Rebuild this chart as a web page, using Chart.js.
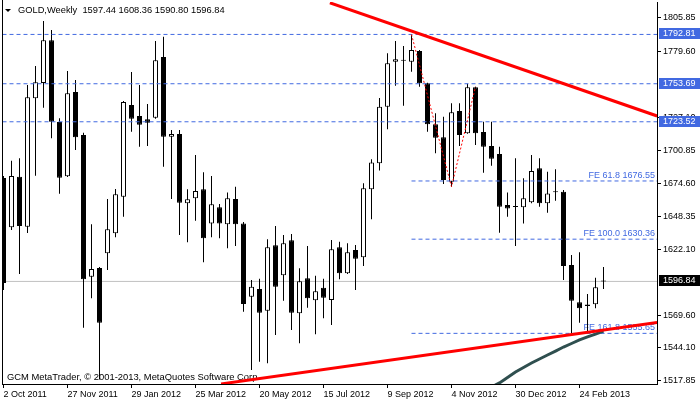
<!DOCTYPE html>
<html><head><meta charset="utf-8">
<script src="https://cdn.jsdelivr.net/npm/chart.js@4/dist/chart.umd.min.js"></script>
<style>html,body{margin:0;padding:0;background:#fff;}#c{display:block;}</style>
</head><body>
<canvas id="c" width="700" height="402"></canvas>
<script>
// ---- data ----
const headerText = 'GOLD,Weekly  1597.44 1608.36 1590.80 1596.84';
const copyrightText = 'GCM MetaTrader, \u00A9 2001-2013, MetaQuotes Software Corp.';
const dateLabels = ['2 Oct 2011','27 Nov 2011','29 Jan 2012','25 Mar 2012','20 May 2012','15 Jul 2012','9 Sep 2012','4 Nov 2012','30 Dec 2012','24 Feb 2013'];
const openP  = [1678.9,1639.8,1679.9,1640.3,1742.1,1754.3,1788.2,1723.4,1680.3,1747.1,
                1713.0,1600.6,1607.5,1619.2,1635.0,1664.1,1736.8,1728.1,1725.5,1726.7,
                1774.9,1711.7,1713.8,1658.8,1662.8,1669.9,1642.9,1655.6,1642.2,1662.2,
                1642.9,1584.7,1590.8,1573.6,1625.5,1601.7,1629.5,1571.6,1599.3,1581.9,
                1591.9,1582.1,1623.9,1603.3,1621.8,1616.0,1669.9,1690.6,1735.5,1771.2,
                1772.3,1771.2,1779.7,1754.0,1721.5,1711.2,1676.0,1732.1,1714.4,1750.9,
                1715.4,1704.3,1697.9,1657.5,1656.1,1655.6,1659.6,1686.6,1658.8,1668.0,
                1668.0,1609.9,1580.3,1578.6,1578.7,1597.44];
const highP  = [1680.5,1692.6,1694.5,1752.7,1767.8,1803.5,1796.3,1726.3,1763.8,1756.7,
                1714.8,1642.2,1608.3,1662.2,1670.2,1740.0,1763.0,1752.7,1737.6,1787.6,
                1791.0,1717.0,1717.0,1669.9,1697.1,1683.4,1680.5,1658.3,1667.5,1672.0,
                1644.0,1598.0,1599.0,1630.3,1640.8,1633.7,1634.5,1607.3,1624.9,1601.4,
                1599.0,1629.7,1628.4,1627.1,1625.7,1674.7,1693.7,1742.4,1777.8,1787.6,
                1783.6,1792.81,1780.5,1754.5,1730.2,1727.5,1738.2,1738.2,1753.69,1751.28,
                1723.6,1723.6,1703.7,1667.5,1694.5,1678.7,1697.1,1694.5,1683.9,1685.8,
                1669.4,1617.8,1619.9,1586.9,1599.8,1608.36];
const lowP   = [1590.0,1637.7,1602.7,1635.3,1680.7,1734.7,1710.4,1666.5,1679.7,1701.1,
                1560.1,1583.5,1519.0,1605.9,1631.8,1648.2,1715.6,1703.7,1704.3,1725.9,
                1687.9,1662.2,1633.7,1627.9,1645.0,1612.0,1631.8,1631.1,1623.1,1624.9,
                1572.8,1526.6,1533.2,1531.9,1554.3,1581.5,1558.3,1547.8,1576.0,1554.9,
                1567.6,1562.3,1598.5,1602.7,1590.0,1609.1,1646.1,1684.9,1717.5,1752.1,
                1736.3,1763.2,1751.3,1715.6,1698.5,1674.1,1671.89,1704.3,1714.0,1705.1,
                1683.1,1688.7,1635.5,1648.2,1624.9,1642.9,1658.8,1656.1,1651.4,1660.9,
                1598.0,1555.7,1564.1,1555.7,1575.5,1590.80];
const closeP = [1595.6,1680.5,1640.8,1742.9,1754.8,1788.2,1723.6,1679.1,1746.1,1711.2,
                1598.5,1606.7,1564.1,1638.2,1666.0,1739.2,1725.9,1721.2,1722.8,1772.3,
                1711.7,1713.8,1659.3,1662.0,1668.6,1631.1,1658.0,1642.9,1662.8,1642.2,
                1578.9,1592.6,1572.0,1623.9,1592.6,1627.1,1572.0,1596.9,1583.5,1589.0,
                1583.9,1622.3,1603.3,1619.9,1614.9,1670.7,1691.3,1735.5,1769.9,1773.1,
                1772.0,1780.5,1754.0,1721.5,1710.9,1677.3,1731.0,1713.0,1750.9,1714.4,
                1703.7,1694.2,1656.1,1654.8,1655.8,1662.8,1684.5,1658.8,1666.7,1667.6,
                1609.1,1581.5,1575.6,1577.3,1592.2,1596.84];
const maStartBar = 61;
const maValues = [1513.1,1516.3,1520.6,1525.0,1528.6,1532.1,1535.3,1538.5,1541.6,1544.8,1547.6,1550.4,1552.8,1555.1,1557.5];
const yTickValues = [1805.85,1779.60,1727.10,1700.85,1674.60,1648.35,1622.10,1569.60,1544.10,1517.85];
const levelPrices = [1792.81,1753.69,1723.52];
const feRatios = ['61.8','100.0','161.8'];
const fePrices = [1676.55,1630.36,1555.65];
const feStartBar = 51;
const bidPrice = 1596.84;
const zigzagBars = [51,56,59];
const zigzagPrices = [1792.81,1671.89,1751.28];
const resistanceBars = [40.8,81.7];
const resistancePrices = [1817.9,1728.1];
const supportBars = [27.2,81.7];
const supportPrices = [1515.5,1564.2];

// ---- chart ----
const FONT = "'Liberation Sans', Arial, sans-serif";
Chart.defaults.font.family = FONT;
Chart.defaults.font.size = 9;
Chart.defaults.color = '#000';

const BLUE = '#4169E1';
const X_MIN = -0.1875, X_MAX = 81.6875;

function hline(price, fromX, toX, color, width, dash, order) {
  return {type:'line', data:[{x:fromX,y:price},{x:toX,y:price}], borderColor:color, borderWidth:width,
          borderDash:dash||[], pointRadius:0, fill:false, tension:0, order:order};
}
function seg(bars, prices, color, width, dash, order) {
  return {type:'line', data:bars.map((b,k)=>({x:b,y:prices[k]})), borderColor:color, borderWidth:width,
          borderDash:dash||[], pointRadius:0, fill:false, tension:0, order:order};
}

const datasets = [];
// candle wicks
datasets.push({type:'bar', data:openP.map((o,i)=>({x:i,y:[lowP[i],highP[i]]})),
  backgroundColor:'#000', borderWidth:0, barThickness:1, grouped:false, inflateAmount:0, order:11});
// candle bodies
datasets.push({type:'bar', data:openP.map((o,i)=>({x:i,y:[o,closeP[i]]})),
  backgroundColor:openP.map((o,i)=>closeP[i] > o ? '#fff' : '#000'),
  borderColor:'#000', borderWidth:1, borderSkipped:false, barThickness:5, grouped:false,
  minBarLength:1, inflateAmount:0, order:10});
// bid line (behind candles)
datasets.push(hline(bidPrice, -1, 90, '#c0c0c0', 1, null, 12));
// horizontal levels
levelPrices.forEach(p => datasets.push(hline(p, -1, 90, BLUE, 1, [4,3], 5)));
// FE levels
fePrices.forEach(p => datasets.push(hline(p, feStartBar, 90, BLUE, 1, [4,3], 5)));
// moving average
datasets.push({type:'line', data:maValues.map((v,k)=>({x:maStartBar+k,y:v})), borderColor:'#2F4F4F',
  borderWidth:3, pointRadius:0, fill:false, tension:0, order:4});
// FE zigzag
datasets.push(seg(zigzagBars, zigzagPrices, '#ff0000', 1, [2,2], 3));
// trend lines
datasets.push(seg(resistanceBars, resistancePrices, '#ff0000', 3, null, 2));
datasets.push(seg(supportBars, supportPrices, '#ff0000', 3, null, 2));

const overlay = {
  id:'overlay',
  beforeDatasetsDraw(chart){
    const ctx = chart.ctx, y = chart.scales.y, a = chart.chartArea;
    ctx.save();
    ctx.font = '9px ' + FONT;
    ctx.fillStyle = BLUE; ctx.textAlign = 'right'; ctx.textBaseline = 'alphabetic';
    fePrices.forEach((p,k)=>{
      ctx.fillText('FE ' + feRatios[k] + ' ' + p.toFixed(2), a.right - 2, y.getPixelForValue(p) - 3);
    });
    ctx.fillStyle = '#000'; ctx.textAlign = 'left';
    ctx.font = '9.4px ' + FONT;
    ctx.fillText(copyrightText, 7, 380);
    ctx.restore();
  },
  afterDraw(chart){
    const ctx = chart.ctx, y = chart.scales.y, a = chart.chartArea;
    ctx.save();
    // left frame
    ctx.strokeStyle = '#000'; ctx.lineWidth = 1;
    ctx.beginPath(); ctx.moveTo(a.left + 0.5, 0); ctx.lineTo(a.left + 0.5, a.bottom); ctx.stroke();
    // header
    ctx.fillStyle = '#000';
    ctx.beginPath(); ctx.moveTo(5,9); ctx.lineTo(11,9); ctx.lineTo(8,12); ctx.closePath(); ctx.fill();
    ctx.font = '9.3px ' + FONT; ctx.textAlign = 'left'; ctx.textBaseline = 'alphabetic';
    ctx.fillText(headerText, 18, 13);
    // axis price boxes
    ctx.font = '9px ' + FONT; ctx.textBaseline = 'middle';
    const box = (p, bg) => {
      const py = Math.round(y.getPixelForValue(p));
      ctx.fillStyle = bg; ctx.fillRect(a.right + 2, py - 6, 700 - a.right - 2, 11);
      ctx.fillStyle = '#fff'; ctx.fillText(p.toFixed(2), a.right + 6, py);
    };
    levelPrices.forEach(p => box(p, BLUE));
    box(bidPrice, '#000');
    ctx.restore();
  }
};

new Chart(document.getElementById('c'), {
  type:'bar',
  data:{datasets},
  options:{
    responsive:false, animation:false, devicePixelRatio:1, events:[],
    layout:{padding:{left:2, top:2, right:0, bottom:0}, autoPadding:false},
    plugins:{legend:{display:false}, tooltip:{enabled:false}},
    scales:{
      x:{type:'linear', min:X_MIN, max:X_MAX, offset:false, bounds:'data',
        grid:{drawOnChartArea:false, drawTicks:true, tickLength:4, color:'#000', offset:false},
        border:{display:true, color:'#000', width:1},
        ticks:{autoSkip:false, maxRotation:0, minRotation:0, align:'start', padding:1,
          font:{size:9}, callback:(v)=>dateLabels[Math.round(v/8)]},
        afterBuildTicks:(s)=>{ s.ticks = dateLabels.map((_,k)=>({value:k*8})); },
        afterFit:(s)=>{ s.height = 18; s.paddingLeft = 0; s.paddingRight = 0; }
      },
      y:{type:'linear', position:'right', min:1515.466, max:1818.544, beginAtZero:false, bounds:'data',
        grid:{drawOnChartArea:false, drawTicks:true, tickLength:4, color:'#000'},
        border:{display:true, color:'#000', width:1},
        ticks:{padding:2, font:{size:9}, callback:(v)=>Number(v).toFixed(2)},
        afterBuildTicks:(s)=>{ s.ticks = yTickValues.map(v=>({value:v})); },
        afterFit:(s)=>{ s.width = 43; s.paddingTop = 0; s.paddingBottom = 0; }
      }
    }
  },
  plugins:[overlay]
});
</script>
</body></html>
